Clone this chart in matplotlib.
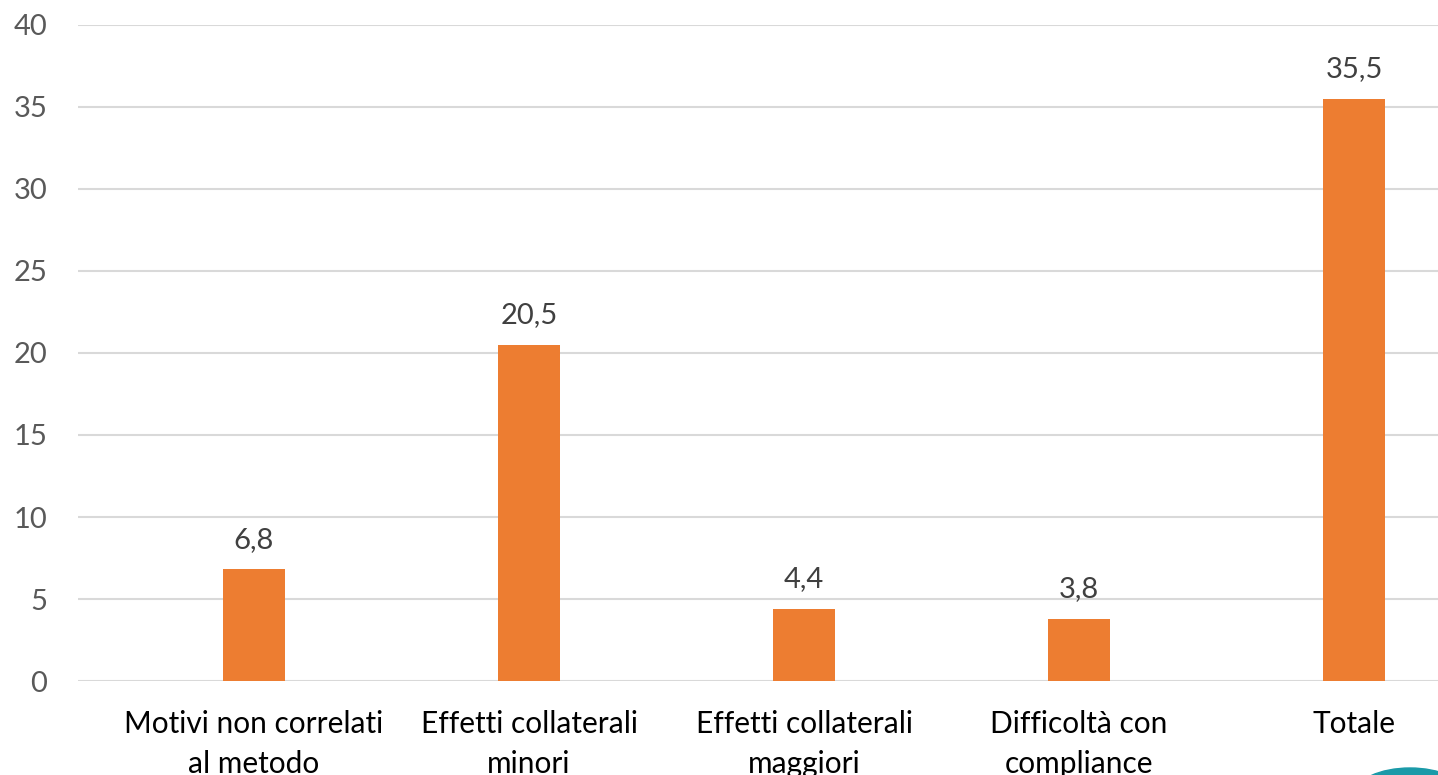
import matplotlib.pyplot as plt
from matplotlib.patches import Ellipse

categories = ["Motivi non correlati\nal metodo", "Effetti collaterali\nminori",
              "Effetti collaterali\nmaggiori", "Difficoltà con\ncompliance", "Totale"]
values = [6.8, 20.5, 4.4, 3.8, 35.5]
yticks = [0, 5, 10, 15, 20, 25, 30, 35, 40]

plt.rcParams['font.family'] = ['Lato', 'DejaVu Sans']

fig = plt.figure(figsize=(14.38, 7.75), dpi=100)
ax = fig.add_axes([78 / 1438, 1 - 681 / 775, (1438 - 78) / 1438, (681 - 25) / 775])

x = range(len(categories))
ax.bar(x, values, width=0.225, color='#ED7D31', zorder=3)

for xi, v in zip(x, values):
    ax.annotate(f"{v:.1f}".replace('.', ','), (xi, v), xytext=(0, 12),
                textcoords='offset points', ha='center', va='bottom',
                fontsize=21, color='#404040')

ax.set_ylim(0, 40)
ax.set_xlim(-0.64, 4.305)
ax.set_yticks(yticks)
ax.set_yticklabels([str(t) for t in yticks], fontsize=21, color='#595959')
ax.set_xticks(list(x))
ax.set_xticklabels(categories, fontsize=21.5, color='#000000', linespacing=1.5)
ax.tick_params(axis='both', length=0)
ax.tick_params(axis='y', pad=22)
ax.tick_params(axis='x', pad=21)
ax.grid(axis='y', color='#d9d9d9', linewidth=1.5, zorder=0)
for s in ax.spines.values():
    s.set_visible(False)

# small teal shape at the bottom-right corner
fig.patches.append(Ellipse((1410 / 1438, 1 - 794 / 775), 110 / 1438, 52 / 775,
                           transform=fig.transFigure, color='#1a9aa8', zorder=5))

fig.savefig('out.png', dpi=100)
